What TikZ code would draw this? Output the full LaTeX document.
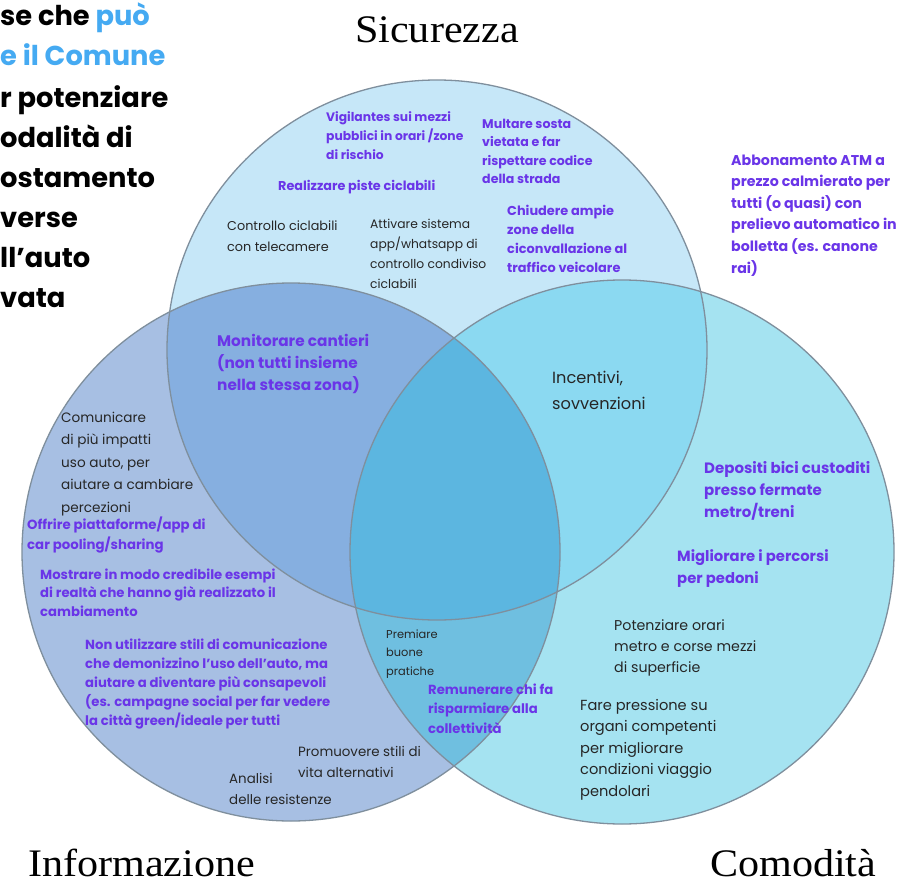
\documentclass[tikz,border=0pt]{standalone}
\usepackage{fontspec}
\setmainfont{Poppins}
\newfontfamily\titlefont[FakeStretch=1.08]{Liberation Serif}
\definecolor{cT}{HTML}{C6E7F8}
\definecolor{cL}{HTML}{A7BFE3}
\definecolor{cR}{HTML}{A5E3F1}
\definecolor{cTL}{HTML}{86AFE0}
\definecolor{cTR}{HTML}{8BD9F1}
\definecolor{cLR}{HTML}{6FBFE0}
\definecolor{cC}{HTML}{5CB6E0}
\definecolor{cLine}{HTML}{7F8F9D}
\definecolor{cPur}{HTML}{6A35E8}
\definecolor{cBlk}{HTML}{262626}
\definecolor{cBlue}{HTML}{45AAF2}
\tikzset{
  pur/.style 2 args={anchor=base west, inner sep=0pt, align=left, text=cPur, font=\fontsize{#1}{#2}\selectfont\bfseries},
  blk/.style 2 args={anchor=base west, inner sep=0pt, align=left, text=cBlk, font=\fontsize{#1}{#2}\selectfont},
  hd/.style={anchor=base west, inner sep=0pt, text=black, font=\fontsize{27.3}{30}\selectfont\bfseries},
  ttl/.style={inner sep=0pt, text=black, font=\titlefont\fontsize{39}{40}\selectfont},
  ring/.style={draw=cLine, line width=1.3pt}
}
\begin{document}
\begin{tikzpicture}[x=1pt,y=-1pt]
\useasboundingbox (0,0) rectangle (905,883);
\fill[white] (0,0) rectangle (905,883);
\def\circT{(437,350) circle[radius=270pt]}
\def\circL{(291,552) circle[radius=269pt]}
\def\circR{(622,552) circle[radius=272pt]}
% base fills
\fill[cT] \circT;
\fill[cL] \circL;
\fill[cR] \circR;
% pairwise intersections
\begin{scope}\clip \circT; \fill[cTL] \circL; \end{scope}
\begin{scope}\clip \circT; \fill[cTR] \circR; \end{scope}
\begin{scope}\clip \circL; \fill[cLR] \circR; \end{scope}
\begin{scope}\clip \circT; \clip \circL; \fill[cC] \circR; \end{scope}
% outlines
\draw[ring] \circT;
\draw[ring] \circL;
\draw[ring] \circR;

% titles
\node[ttl, anchor=base] (tS) at (437,43) {Sicurezza};
\node[ttl, anchor=base west] (tI) at (28,876) {Informazione};
\node[ttl, anchor=base west] (tC) at (710,876) {Comodità};

% header text (cut at left edge)
\node[hd] (h1) at (0,26) {se che \textcolor{cBlue}{può}};
\node[hd] (h2) at (0,66) {\textcolor{cBlue}{e il Comune}};
\node[hd] (h3) at (0,107) {r potenziare};
\node[hd] (h4) at (0,147) {odalità di};
\node[hd] (h5) at (0,187) {ostamento};
\node[hd] (h6) at (0,227) {verse};
\node[hd] (h7) at (0,267) {ll’auto};
\node[hd] (h8) at (0,307) {vata};

% Sicurezza
\node[pur={12.3}{19}] (vig) at (326,159) {Vigilantes sui mezzi\\pubblici in orari /zone\\di rischio};
\node[pur={12.6}{18.5}] (mul) at (482,183.5) {Multare sosta\\vietata e far\\rispettare codice\\della strada};
\node[pur={12.8}{19}] (rea) at (278,190) {Realizzare piste ciclabili};
\node[blk={12.8}{21}] (con) at (227,251) {Controllo ciclabili\\con telecamere};
\node[blk={12.3}{20}] (att) at (370,288) {Attivare sistema\\app/whatsapp di\\controllo condiviso\\ciclabili};
\node[pur={12.9}{19}] (chi) at (507,272) {Chiudere ampie\\zone della\\ciconvallazione al\\traffico veicolare};
\node[pur={14.2}{21.6}] (abb) at (731,273) {Abbonamento ATM a\\prezzo calmierato per\\tutti (o quasi) con\\prelievo automatico in\\bolletta (es. canone\\rai)};

% intersections
\node[pur={15.3}{22}] (mon) at (217,390) {Monitorare cantieri\\(non tutti insieme\\nella stessa zona)};
\node[blk={16.2}{26}] (inc) at (552,409) {Incentivi,\\sovvenzioni};
\node[blk={11.4}{18.5}] (pre) at (386,675) {Premiare\\buone\\pratiche};
\node[pur={13.2}{19.5}] (rem) at (428,733) {Remunerare chi fa\\risparmiare alla\\collettività};

% Informazione
\node[blk={13.6}{22.5}] (com) at (61,512) {Comunicare\\di più impatti\\uso auto, per\\aiutare a cambiare\\percezioni};
\node[pur={13.3}{20}] (off) at (27,549) {Offrire piattaforme/app di\\car pooling/sharing};
\node[pur={13.2}{18.5}] (mos) at (40,616) {Mostrare in modo credibile esempi\\di realtà che hanno già realizzato il\\cambiamento};
\node[pur={13.2}{19}] (non) at (85,725) {Non utilizzare stili di comunicazione\\che demonizzino l’uso dell’auto, ma\\aiutare a diventare più consapevoli\\(es. campagne social per far vedere\\la città green/ideale per tutti};
\node[blk={13.4}{21}] (pro) at (298,777) {Promuovere stili di\\vita alternativi};
\node[blk={13.4}{21}] (ana) at (229,804) {Analisi\\delle resistenze};

% Comodità
\node[pur={15}{22}] (dep) at (704,517) {Depositi bici custoditi\\presso fermate\\metro/treni};
\node[pur={14.8}{22}] (mig) at (677,583) {Migliorare i percorsi\\per pedoni};
\node[blk={14.2}{21}] (pot) at (614,672) {Potenziare orari\\metro e corse mezzi\\di superficie};
\node[blk={14.6}{21.5}] (far) at (580,796) {Fare pressione su\\organi competenti\\per migliorare\\condizioni viaggio\\pendolari};
\end{tikzpicture}
\end{document}
